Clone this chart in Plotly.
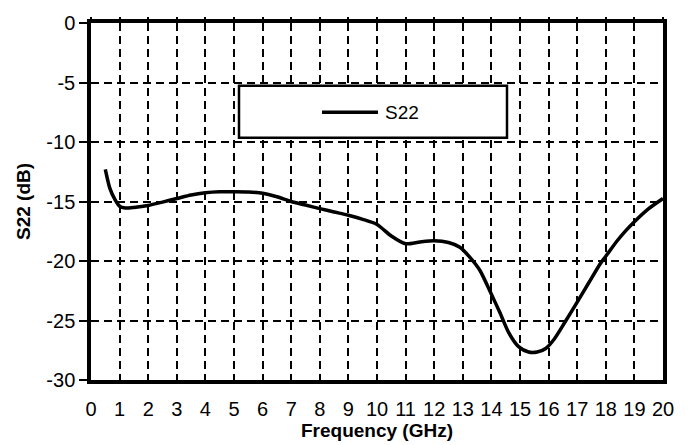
import plotly.graph_objects as go

freq_ghz = [0.5, 0.66, 0.84, 1.0, 1.2, 1.5, 2.0, 2.5, 3.0, 3.5, 4.0, 4.5, 5.0, 5.5, 6.0, 6.5,
            7.0, 7.5, 8.0, 8.5, 9.0, 9.5, 10.0, 10.5, 11.0, 11.5, 12.0, 12.5, 12.9, 13.25, 13.6,
            14.0, 14.3, 14.6, 14.95, 15.3, 15.6, 15.9, 16.2, 16.57, 17.0, 17.4, 17.8, 18.0, 18.4,
            18.7, 19.0, 19.5, 20.0]
s22_db = [-12.3, -13.9, -14.85, -15.4, -15.55, -15.5, -15.33, -15.05, -14.75, -14.45, -14.26, -14.18, -14.18, -14.2, -14.3, -14.6,
          -15.0, -15.3, -15.6, -15.88, -16.16, -16.5, -16.93, -17.9, -18.55, -18.4, -18.3, -18.45, -18.85, -19.7, -20.8,
          -22.8, -24.35, -26.0, -27.2, -27.65, -27.65, -27.35, -26.55, -25.15, -23.45, -21.85, -20.25, -19.6, -18.3,
          -17.45, -16.7, -15.6, -14.75]

x_ticks = list(range(0, 21))
y_ticks = [0, -5, -10, -15, -20, -25, -30]
legend_name = "S22"

fig = go.Figure()
fig.add_trace(go.Scatter(x=freq_ghz, y=s22_db, mode="lines", name=legend_name,
                         line=dict(color="black", width=3.5, shape="spline", smoothing=0.7),
                         showlegend=False))
# dummy trace for top tick axis
fig.add_trace(go.Scatter(x=[None], y=[None], xaxis="x2", showlegend=False, hoverinfo="skip"))

font_family = "Liberation Sans, Arial, sans-serif"

fig.update_layout(
    width=689, height=445,
    margin=dict(l=91, r=26, t=18, b=63),
    paper_bgcolor="white", plot_bgcolor="white",
    font=dict(family=font_family, color="black", size=20),
    xaxis=dict(range=[0, 20], tickvals=x_ticks, ticktext=[str(v) for v in x_ticks],
               showgrid=True, gridcolor="black", gridwidth=2, griddash="8px,5px",
               showline=True, linecolor="black", linewidth=3.5, mirror=True,
               ticks="", tickfont=dict(size=20), zeroline=False, ticklabelstandoff=8,
               title=dict(text="<b>Frequency (GHz)</b>", font=dict(size=19), standoff=0)),
    xaxis2=dict(range=[0, 20], overlaying="x", side="top", tickvals=x_ticks,
                showticklabels=False, ticks="outside", ticklen=5, tickwidth=2, tickcolor="black",
                showgrid=False, showline=False, zeroline=False),
    yaxis=dict(range=[-30, 0], tickvals=y_ticks, ticktext=[str(v) for v in y_ticks],
               showgrid=True, gridcolor="black", gridwidth=2, griddash="8px,5px",
               showline=True, linecolor="black", linewidth=3.5, mirror=True,
               ticks="outside", ticklen=8, tickwidth=2, tickcolor="black",
               tickfont=dict(size=20), zeroline=False,
               title=dict(text="<b>S22 (dB)</b>", font=dict(size=19), standoff=12)),
    shapes=[
        dict(type="rect", xref="paper", yref="paper",
             x0=(239 - 91) / 572, x1=(507 - 91) / 572,
             y0=(382 - 135) / 364, y1=(382 - 82) / 364,
             line=dict(color="black", width=2.5), fillcolor="white", layer="above"),
        dict(type="line", xref="paper", yref="paper",
             x0=(322 - 91) / 572, x1=(378 - 91) / 572,
             y0=(382 - 109) / 364, y1=(382 - 109) / 364,
             line=dict(color="black", width=3.5), layer="above"),
    ],
    annotations=[
        dict(text=legend_name, xref="paper", yref="paper",
             x=(383 - 91) / 572, y=(382 - 109) / 364, xanchor="left", yanchor="middle",
             showarrow=False, font=dict(size=19, color="black")),
    ],
)

fig.write_html("out.html")
